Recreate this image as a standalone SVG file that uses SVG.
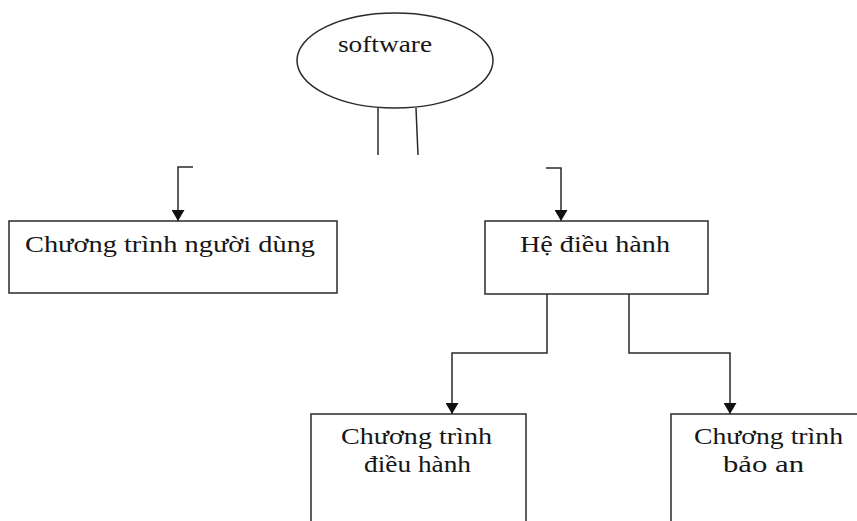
<svg xmlns="http://www.w3.org/2000/svg" width="857" height="521" viewBox="0 0 857 521">
  <defs>
    <style>
      .shape { fill: #ffffff; stroke: #2a2a2a; stroke-width: 1.5; }
      .wire { fill: none; stroke: #2a2a2a; stroke-width: 1.5; }
      .label { font-family: "Liberation Serif", "Times New Roman", serif; font-size: 23px; fill: #161616; }
    </style>
    <!-- solid triangular head, drawn along +x so orient="auto" points it down the line -->
    <marker id="arrow" viewBox="0 0 11 13" refX="11" refY="6.5" markerWidth="11" markerHeight="13" markerUnits="userSpaceOnUse" orient="auto">
      <path d="M0,0 L11,6.5 L0,13 Z" fill="#111111"/>
    </marker>
  </defs>

  <rect x="0" y="0" width="857" height="521" fill="#ffffff"/>

  <!-- root node -->
  <g id="software">
    <ellipse class="shape" cx="395" cy="60.5" rx="98" ry="47.5"/>
    <text class="label" x="338" y="52" textLength="94" lengthAdjust="spacingAndGlyphs">software</text>
  </g>

  <!-- connectors -->
  <g id="connectors">
    <line class="wire" x1="378" y1="108" x2="378" y2="155"/>
    <line class="wire" x1="416" y1="108" x2="418" y2="155"/>
    <polyline class="wire" points="193,167 178,167 178,221" marker-end="url(#arrow)"/>
    <polyline class="wire" points="546,168 561,168 561,221" marker-end="url(#arrow)"/>
    <polyline class="wire" points="547,294 547,353 452,353 452,414" marker-end="url(#arrow)"/>
    <polyline class="wire" points="629,294 629,353 730,353 730,414" marker-end="url(#arrow)"/>
  </g>

  <g id="user-programs">
    <rect class="shape" x="9" y="221" width="328" height="72"/>
    <text class="label" x="25" y="252" textLength="290" lengthAdjust="spacingAndGlyphs">Chương trình người dùng</text>
  </g>

  <g id="operating-system">
    <rect class="shape" x="485" y="221" width="223" height="73"/>
    <text class="label" x="520" y="252" textLength="150" lengthAdjust="spacingAndGlyphs">Hệ điều hành</text>
  </g>

  <g id="control-programs">
    <rect class="shape" x="311" y="414" width="215" height="120"/>
    <text class="label" x="341" y="444" textLength="151" lengthAdjust="spacingAndGlyphs">Chương trình</text>
    <text class="label" x="364" y="472" textLength="107" lengthAdjust="spacingAndGlyphs">điều hành</text>
  </g>

  <g id="security-programs">
    <rect class="shape" x="671" y="414" width="200" height="120"/>
    <text class="label" x="694" y="444" textLength="149" lengthAdjust="spacingAndGlyphs">Chương trình</text>
    <text class="label" x="723" y="472" textLength="81" lengthAdjust="spacingAndGlyphs">bảo an</text>
  </g>
</svg>
